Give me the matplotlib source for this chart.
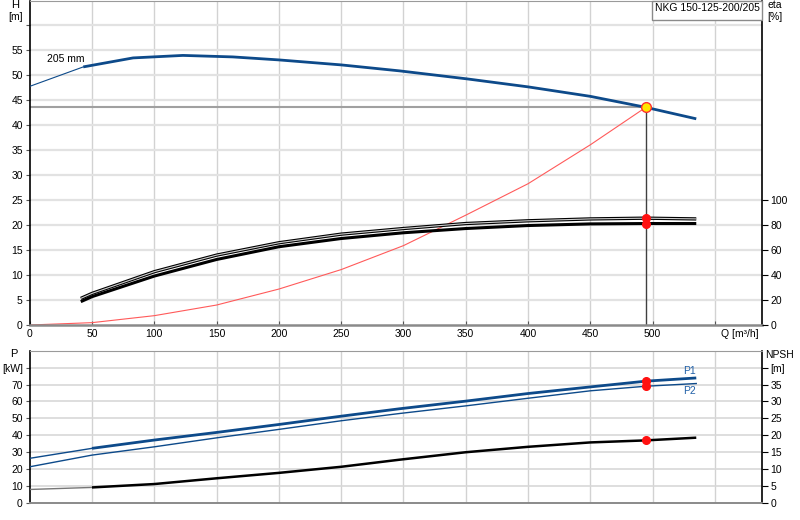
import matplotlib
matplotlib.use("Agg")
import matplotlib.pyplot as plt
from matplotlib.patches import Rectangle
from matplotlib.transforms import blended_transform_factory

plt.rcParams['font.family'] = ['Liberation Sans', 'DejaVu Sans']

# ---------------- data ----------------
title = "NKG 150-125-200/205"
impeller_label = "205 mm"
q_label = "Q [m³/h]"

q_head = [0, 43, 83, 123, 163, 200, 250, 297, 351, 400, 450, 494.5, 535]
head = [47.8, 51.7, 53.5, 54.0, 53.7, 53.1, 52.1, 50.9, 49.3, 47.7, 45.8, 43.6, 41.3]

q_sys = [0, 50, 100, 150, 200, 250, 300, 350, 400, 450, 494.5]
h_sys = [0, 0.47, 1.87, 4.0, 7.2, 11.1, 15.9, 22.0, 28.3, 36.1, 43.6]

q_eta = [41, 50, 100, 150, 200, 250, 300, 350, 400, 450, 494.5, 535]
eta_upper = [21.3, 25.3, 42.7, 56.0, 65.9, 72.8, 77.3, 81.3, 83.5, 85.0, 85.6, 85.0]
eta_lower = [18.7, 22.7, 39.2, 52.5, 62.7, 69.3, 73.9, 77.3, 79.7, 81.0, 81.3, 81.3]

q_low = [0, 50, 100, 150, 200, 250, 297, 350, 400, 450, 494.5, 535]
p1 = [26.4, 32.3, 37.2, 41.7, 46.4, 51.3, 55.7, 60.2, 64.7, 68.6, 72.0, 73.9]
p2 = [21.4, 28.3, 33.2, 38.5, 43.5, 48.6, 52.9, 57.4, 61.9, 66.3, 69.0, 70.6]
npsh = [4.0, 4.6, 5.6, 7.3, 8.9, 10.7, 12.8, 15.0, 16.6, 17.9, 18.5, 19.3]

q_op = 494.5
h_op = 43.6
eta_op = [85.6, 81.3]
p_op = [72.0, 69.0]
npsh_op = 18.5

x_grid = [0, 50, 100, 150, 200, 250, 300, 350, 400, 450, 500, 550]
x_labels = ["0", "50", "100", "150", "200", "250", "300", "350", "400", "450", "500", ""]
h_ticks = [0, 5, 10, 15, 20, 25, 30, 35, 40, 45, 50, 55, 60]
eta_ticks = [0, 20, 40, 60, 80, 100]
p_ticks = [0, 10, 20, 30, 40, 50, 60, 70, 80]
npsh_ticks = [0, 5, 10, 15, 20, 25, 30, 35, 40]

# ---------------- style ----------------
BLUE = "#0d4a8a"
FS = 7.5
W, H = 800, 520

fig = plt.figure(figsize=(8, 5.2), dpi=100)

def px_axes(l, t, r, b):
    return fig.add_axes([l / W, 1 - b / H, (r - l) / W, (b - t) / H])

def style(ax):
    ax.set_facecolor("white")
    ax.spines['left'].set_color("black")
    ax.spines['right'].set_color("black")
    ax.spines['top'].set_color("#9a9a9a")
    ax.spines['bottom'].set_color("#8a8a8a")
    ax.spines['bottom'].set_linewidth(1.8)
    ax.spines['left'].set_linewidth(1.2)
    ax.spines['right'].set_linewidth(1.2)

# ---------------- top panel ----------------
ax = px_axes(29.7, 0.5, 762.3, 325)
style(ax)
ax.set_xlim(0, 588)
ax.set_ylim(0, 65)
for x in x_grid[1:]:
    ax.axvline(x, color="#d2d2d2", lw=1.0, zorder=0)
for y in h_ticks[1:]:
    ax.axhline(y, color="#e2e2e2", lw=1.6, zorder=0)
ax.set_xticks(x_grid)
ax.set_xticklabels(x_labels, fontsize=FS)
ax.set_yticks(h_ticks)
ax.set_yticklabels([str(t) for t in h_ticks[:-1]] + [""], fontsize=FS)
ax.tick_params(axis='both', length=3, width=0.8, color="#555555", pad=2)
ax.tick_params(axis='x', direction='in', length=3, pad=3)
trans = blended_transform_factory(ax.transData, ax.transAxes)
ax.text(555, -0.027, q_label, transform=trans, fontsize=FS, ha='left', va='center')

# head curve
ax.plot(q_head[:2], head[:2], color=BLUE, lw=0.8, zorder=3)
ax.plot(q_head[1:], head[1:], color=BLUE, lw=2.0, zorder=3, solid_capstyle='butt')
ax.text(14, 53.3, impeller_label, fontsize=FS, va='center', ha='left')

# system curve
ax.plot(q_sys, h_sys, color="#ff5a5a", lw=0.8, zorder=2)

# operating point lines
ax.plot([0, q_op], [h_op, h_op], color="#a0a0a0", lw=1.5, zorder=2)
ax.plot([q_op, q_op], [0, h_op], color="#404040", lw=1.0, zorder=2)

# efficiency axis
ax2 = ax.twinx()
ax2.set_xlim(0, 588)
ax2.set_ylim(0, 260)
ax2.set_yticks(eta_ticks)
ax2.set_yticklabels([str(t) for t in eta_ticks], fontsize=FS)
ax2.tick_params(axis='y', length=4, width=0.8, color="black", pad=2)
for s in ax2.spines.values():
    s.set_visible(False)
ax2.plot(q_eta, eta_upper, color="black", lw=2.4, zorder=3, solid_capstyle='butt')
ax2.plot(q_eta, eta_upper, color="#d0d0d0", lw=0.8, zorder=4, solid_capstyle='butt')
ax2.plot(q_eta, eta_lower, color="black", lw=2.2, zorder=3, solid_capstyle='butt')
ax2.plot([q_op, q_op], eta_op, 'o', color="#ff1010", ms=5.5, zorder=6)

ax.plot([q_op], [h_op], 'o', color="#ffe600", mec="#ff3030", mew=1.0, ms=7, zorder=7)

# labels
fig.text(15 / W, 1 - 5 / H, "H", fontsize=FS + 0.5, ha='center', va='center')
fig.text(16 / W, 1 - 17 / H, "[m]", fontsize=FS, ha='center', va='center')
fig.text(767 / W, 1 - 5 / H, "eta", fontsize=FS, ha='left', va='center')
fig.text(767 / W, 1 - 17 / H, "[%]", fontsize=FS, ha='left', va='center')

# title box
box = Rectangle((651.7 / W, 1 - 19.5 / H), (762.3 - 651.7) / W, 19 / H,
                transform=fig.transFigure, facecolor="white", edgecolor="#8a8a8a",
                lw=1.0, zorder=10)
fig.add_artist(box)
fig.text(655 / W, 1 - 8 / H, title, fontsize=FS, ha='left', va='center', zorder=11)

# ---------------- bottom panel ----------------
bx = px_axes(29.7, 350.7, 762.3, 503)
style(bx)
bx.spines['bottom'].set_linewidth(1.4)
bx.set_xlim(0, 588)
bx.set_ylim(0, 90)
for x in x_grid[1:]:
    bx.axvline(x, color="#d2d2d2", lw=1.0, zorder=0)
for y in p_ticks[1:]:
    bx.axhline(y, color="#d8d8d8", lw=1.2, zorder=0)
bx.set_xticks(x_grid)
bx.set_xticklabels([])
bx.tick_params(axis='x', length=0)
bx.set_yticks(p_ticks)
bx.set_yticklabels([str(t) for t in p_ticks[:-1]] + ["[kW]"], fontsize=FS)
bx.tick_params(axis='y', length=3, width=0.8, color="#555555", pad=2)

bx.plot(q_low[:2], p1[:2], color=BLUE, lw=1.0, zorder=3)
bx.plot(q_low[1:], p1[1:], color=BLUE, lw=2.0, zorder=3, solid_capstyle='butt')
bx.plot(q_low, p2, color=BLUE, lw=1.0, zorder=3)
bx.plot([q_op, q_op], p_op, 'o', color="#ff1010", ms=5.5, zorder=6)
bx.text(535, p1[-1] + 4.0, "P1", color="#2060a8", fontsize=FS, ha='right', va='center')
bx.text(535, p2[-1] - 4.5, "P2", color="#2060a8", fontsize=FS, ha='right', va='center')

bx2 = bx.twinx()
bx2.set_xlim(0, 588)
bx2.set_ylim(0, 45)
bx2.set_yticks(npsh_ticks)
bx2.set_yticklabels([str(t) for t in npsh_ticks[:-1]] + ["[m]"], fontsize=FS)
bx2.tick_params(axis='y', length=4, width=0.8, color="black", pad=2)
for s in bx2.spines.values():
    s.set_visible(False)
bx2.plot(q_low[:2], npsh[:2], color="#777777", lw=1.0, zorder=3)
bx2.plot(q_low[1:], npsh[1:], color="black", lw=1.8, zorder=3, solid_capstyle='butt')
bx2.plot([q_op], [npsh_op], 'o', color="#ff1010", ms=5.5, zorder=6)

fig.text(14 / W, 1 - 354 / H, "P", fontsize=FS + 0.5, ha='center', va='center')
fig.text(779 / W, 1 - 355 / H, "NPSH", fontsize=FS, ha='center', va='center')

fig.savefig("out.png", dpi=100)
